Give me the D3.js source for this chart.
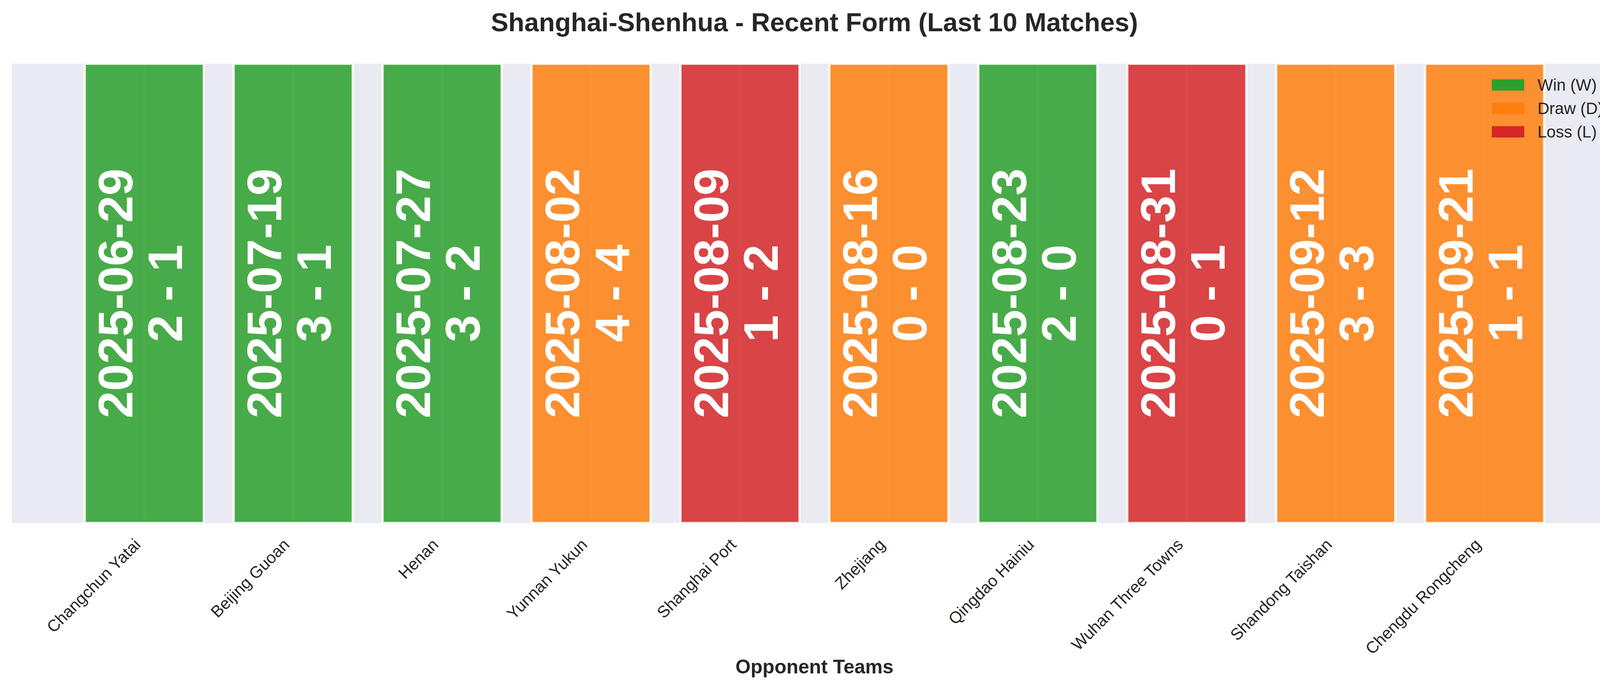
<!DOCTYPE html>
<html>
<head>
<meta charset="utf-8">
<script src="https://cdn.jsdelivr.net/npm/d3@7"></script>
<style>
    body { margin: 0; background: #ffffff; }
    svg { display: block; }
</style>
</head>
<body>
<svg id="chart" width="4170" height="1769"></svg>
<script>
var teams = ["Changchun Yatai", "Beijing Guoan", "Henan", "Yunnan Yukun", "Shanghai Port",
    "Zhejiang", "Qingdao Hainiu", "Wuhan Three Towns", "Shandong Taishan", "Chengdu Rongcheng"];
var dates = ["2025-06-29", "2025-07-19", "2025-07-27", "2025-08-02", "2025-08-09",
    "2025-08-16", "2025-08-23", "2025-08-31", "2025-09-12", "2025-09-21"];
var scores = ["2 - 1", "3 - 1", "3 - 2", "4 - 4", "1 - 2", "0 - 0", "2 - 0", "0 - 1", "3 - 3", "1 - 1"];
var results = ["W", "W", "W", "D", "L", "D", "W", "L", "D", "D"];
var barValues = [1, 1, 1, 1, 1, 1, 1, 1, 1, 1];

var legendKeys = ["W", "D", "L"];
var legendLabels = ["Win (W)", "Draw (D)", "Loss (L)"];
var resultColors = ["#2ca02c", "#ff7f0e", "#d62728"];

var font = "'Liberation Sans', Arial, Helvetica, sans-serif";
var textColor = "#262626";

var plot = { left: 30, right: 4140, top: 163, bottom: 1339 };

var svg = d3.select("#chart");
var color = d3.scaleOrdinal().domain(legendKeys).range(resultColors);

var x = d3.scaleBand()
    .domain(teams)
    .range([plot.left, plot.right])
    .paddingInner(0.2)
    .paddingOuter(0.49);

var y = d3.scaleLinear()
    .domain([0, 1])
    .range([plot.bottom, plot.top]);

svg.append("defs").append("clipPath").attr("id", "plot-clip")
    .append("rect")
    .attr("x", plot.left).attr("y", plot.top)
    .attr("width", plot.right - plot.left).attr("height", plot.bottom - plot.top);

// background of the axes
svg.append("rect")
    .attr("x", plot.left).attr("y", plot.top)
    .attr("width", plot.right - plot.left).attr("height", plot.bottom - plot.top)
    .attr("fill", "#eaeaf2");

// vertical grid lines at each tick (seen through the bars)
var grid = svg.append("g")
    .attr("transform", "translate(0," + plot.bottom + ")")
    .call(d3.axisBottom(x).tickSize(-(plot.bottom - plot.top)).tickFormat(""));
grid.select(".domain").remove();
grid.selectAll("line").attr("stroke", "#ffffff").attr("stroke-width", 4);

var bars = svg.append("g").attr("clip-path", "url(#plot-clip)");

var data = teams.map(function (t, i) {
    return { team: t, date: dates[i], score: scores[i], result: results[i], value: barValues[i] };
});

bars.selectAll("rect.bar")
    .data(data)
    .enter().append("rect")
    .attr("class", "bar")
    .attr("x", function (d) { return x(d.team); })
    .attr("y", function (d) { return y(d.value); })
    .attr("width", x.bandwidth())
    .attr("height", function (d) { return y(0) - y(d.value); })
    .attr("fill", function (d) { return color(d.result); })
    .attr("fill-opacity", 0.85)
    .attr("stroke", "#ffffff")
    .attr("stroke-opacity", 0.85)
    .attr("stroke-width", 6);

// date + score written up the middle of each bar
var labelSize = 125;
var labels = svg.selectAll("g.bar-label")
    .data(data)
    .enter().append("g")
    .attr("class", "bar-label")
    .attr("transform", function (d) {
        var cx = x(d.team) + x.bandwidth() / 2;
        var cy = y(d.value / 2);
        return "translate(" + cx + "," + cy + ") rotate(-90)";
    })
    .style("font-family", font)
    .style("font-weight", "bold")
    .style("font-size", labelSize + "px")
    .attr("fill", "#ffffff")
    .attr("text-anchor", "middle");

labels.append("text")
    .attr("x", 0).attr("y", -0.243 * labelSize)
    .text(function (d) { return d.date; });

labels.append("text")
    .attr("x", 0).attr("y", 0.773 * labelSize)
    .text(function (d) { return d.score; });

// x axis with rotated team names
var xAxis = svg.append("g")
    .attr("transform", "translate(0," + plot.bottom + ")")
    .call(d3.axisBottom(x).tickSize(0));
xAxis.select(".domain").remove();
xAxis.selectAll("text")
    .attr("x", 0).attr("y", 0).attr("dy", null)
    .attr("text-anchor", "end")
    .attr("transform", "translate(-7,58) rotate(-45)")
    .style("font-family", font)
    .style("font-size", "42px")
    .attr("fill", textColor);

// title
svg.append("text")
    .attr("x", 2085).attr("y", 80)
    .attr("text-anchor", "middle")
    .style("font-family", font)
    .style("font-weight", "bold")
    .style("font-size", "67px")
    .attr("fill", textColor)
    .text("Shanghai-Shenhua - Recent Form (Last 10 Matches)");

// x axis label
svg.append("text")
    .attr("x", (plot.left + plot.right) / 2).attr("y", 1724)
    .attr("text-anchor", "middle")
    .style("font-family", font)
    .style("font-weight", "bold")
    .style("font-size", "50px")
    .attr("fill", textColor)
    .text("Opponent Teams");

// legend, no frame
var legend = svg.append("g").attr("transform", "translate(3819,203)");
var item = legend.selectAll("g")
    .data(legendKeys)
    .enter().append("g")
    .attr("transform", function (d, i) { return "translate(0," + (i * 60) + ")"; });

item.append("rect")
    .attr("width", 83).attr("height", 29)
    .attr("fill", function (d) { return color(d); });

item.append("text")
    .attr("x", 117).attr("y", 29)
    .style("font-family", font)
    .style("font-size", "42px")
    .attr("fill", textColor)
    .text(function (d, i) { return legendLabels[i]; });
</script>
</body>
</html>
